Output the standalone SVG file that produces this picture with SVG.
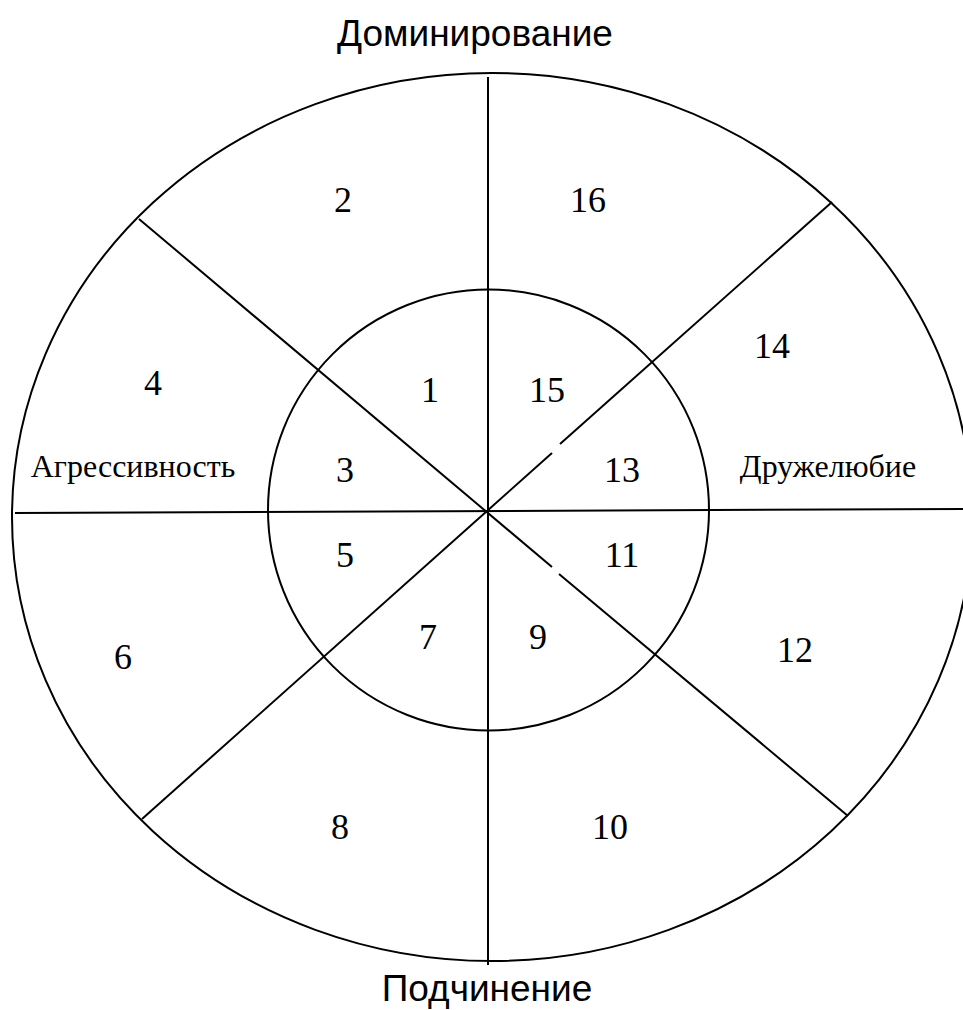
<svg xmlns="http://www.w3.org/2000/svg" width="963" height="1010" viewBox="0 0 963 1010">
<style>
.ln{stroke:#000;stroke-width:2;fill:none}
.num{font-family:"Liberation Serif","Times New Roman",serif;font-size:36px;fill:#000;text-anchor:middle}
.lbl{font-family:"Liberation Serif","Times New Roman",serif;font-size:32px;fill:#000;text-anchor:middle}
.ttl{font-family:"Liberation Sans",Arial,sans-serif;font-size:37px;fill:#000;text-anchor:middle}
</style>
<rect width="963" height="1010" fill="#fff"/>
<g id="outer"><ellipse class="ln" cx="492" cy="517" rx="480" ry="444"/></g>
<g id="inner"><circle class="ln" cx="488.5" cy="510" r="220.5"/></g>
<g id="connectors">
<line class="ln" x1="488" y1="77" x2="488" y2="965"/>
<line class="ln" x1="15" y1="513" x2="963" y2="509"/>
<line class="ln" x1="139" y1="219" x2="552" y2="567"/>
<line class="ln" x1="559" y1="574" x2="848" y2="816"/>
<line class="ln" x1="142" y1="819" x2="552" y2="453"/>
<line class="ln" x1="560" y1="444" x2="832" y2="202"/>
</g>
<g id="titles">
<text class="ttl" x="475" y="46">Доминирование</text>
<text class="ttl" x="487" y="1001">Подчинение</text>
</g>
<g id="labels">
<text class="lbl" x="133" y="477">Агрессивность</text>
<text class="lbl" x="828" y="477">Дружелюбие</text>
</g>
<g id="numbers">
<text class="num" x="343" y="212">2</text>
<text class="num" x="588" y="212">16</text>
<text class="num" x="153" y="395">4</text>
<text class="num" x="772" y="358">14</text>
<text class="num" x="430" y="402">1</text>
<text class="num" x="547" y="402">15</text>
<text class="num" x="345" y="482">3</text>
<text class="num" x="622" y="482">13</text>
<text class="num" x="345" y="567">5</text>
<text class="num" x="622" y="567">11</text>
<text class="num" x="428" y="649">7</text>
<text class="num" x="538" y="649">9</text>
<text class="num" x="123" y="669">6</text>
<text class="num" x="795" y="662">12</text>
<text class="num" x="340" y="839">8</text>
<text class="num" x="610" y="839">10</text>
</g>
</svg>
